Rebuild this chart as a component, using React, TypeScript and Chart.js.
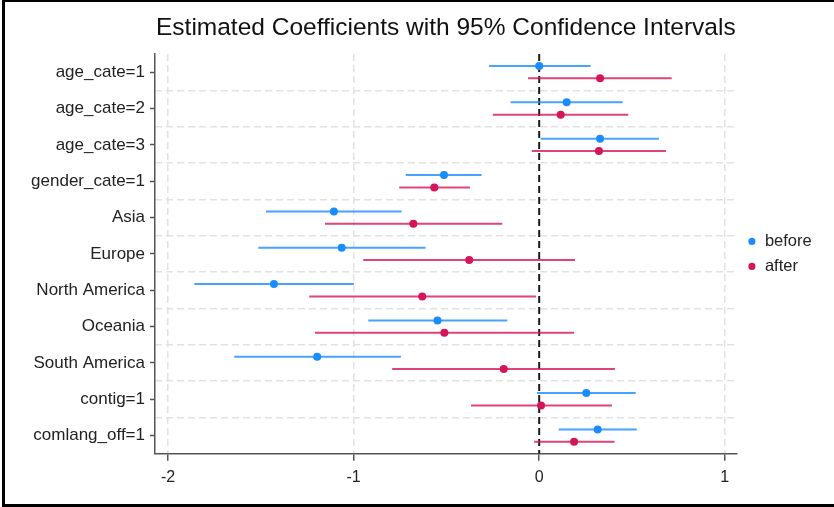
import React, { useEffect, useRef } from "react";
import { Chart, registerables } from "chart.js";

Chart.register(...registerables);

const titleText = "Estimated Coefficients with 95% Confidence Intervals";

const categories = [
  "age_cate=1",
  "age_cate=2",
  "age_cate=3",
  "gender_cate=1",
  "Asia",
  "Europe",
  "North America",
  "Oceania",
  "South America",
  "contig=1",
  "comlang_off=1",
];

const beforeCoef = [0.0, 0.148, 0.328, -0.513, -1.106, -1.064, -1.429, -0.548, -1.196, 0.254, 0.315];
const beforeLow = [-0.27, -0.154, 0.008, -0.719, -1.472, -1.513, -1.858, -0.921, -1.643, -0.012, 0.105];
const beforeHigh = [0.277, 0.45, 0.645, -0.31, -0.741, -0.612, -0.998, -0.172, -0.745, 0.52, 0.526];

const afterCoef = [0.328, 0.116, 0.322, -0.565, -0.678, -0.377, -0.63, -0.511, -0.191, 0.01, 0.188];
const afterLow = [-0.06, -0.25, -0.04, -0.754, -1.154, -0.948, -1.239, -1.208, -0.792, -0.367, -0.027];
const afterHigh = [0.714, 0.48, 0.683, -0.373, -0.199, 0.193, -0.017, 0.188, 0.408, 0.392, 0.406];

const xTicks = [-2, -1, 0, 1];
const seriesNames = ["before", "after"];

export default function App() {
  const ref = useRef<HTMLCanvasElement>(null);

  useEffect(() => {
    document.body.style.margin = "0";
    document.body.style.overflow = "hidden";
    const canvas = ref.current;
    if (!canvas) return;

    const family = "'Liberation Sans', Arial, sans-serif";
    const blue = "rgb(26,140,255)";
    const blueLine = "rgba(26,140,255,0.8)";
    const red = "rgb(214,20,90)";
    const redLine = "rgba(214,20,90,0.8)";
    const off = 0.17;
    const n = categories.length;

    const barSets: any[] = [];
    categories.forEach((_, i) => {
      barSets.push({
        label: "",
        data: [
          { x: beforeLow[i], y: i + 1 - off },
          { x: beforeHigh[i], y: i + 1 - off },
        ],
        showLine: true,
        borderColor: blueLine,
        borderWidth: 2,
        pointRadius: 0,
        xAxisID: "x",
        yAxisID: "y",
        order: 1,
      });
      barSets.push({
        label: "",
        data: [
          { x: afterLow[i], y: i + 1 + off },
          { x: afterHigh[i], y: i + 1 + off },
        ],
        showLine: true,
        borderColor: redLine,
        borderWidth: 2,
        pointRadius: 0,
        xAxisID: "x",
        yAxisID: "y",
        order: 1,
      });
    });

    const chart = new Chart(canvas, {
      type: "scatter",
      data: {
        datasets: [
          {
            label: seriesNames[0],
            data: beforeCoef.map((v, i) => ({ x: v, y: i + 1 - off })),
            backgroundColor: blue,
            borderColor: blue,
            borderWidth: 0,
            pointRadius: 4,
            pointStyle: "circle",
            xAxisID: "x",
            yAxisID: "y",
            order: 0,
          },
          {
            label: seriesNames[1],
            data: afterCoef.map((v, i) => ({ x: v, y: i + 1 + off })),
            backgroundColor: red,
            borderColor: red,
            borderWidth: 0,
            pointRadius: 4,
            pointStyle: "circle",
            xAxisID: "x",
            yAxisID: "y",
            order: 0,
          },
          ...barSets,
          {
            label: "",
            data: [
              { x: 0, y: 0.5 },
              { x: 0, y: n + 0.5 },
            ],
            showLine: true,
            borderColor: "#1a1a1a",
            borderWidth: 2,
            borderDash: [7, 4],
            pointRadius: 0,
            xAxisID: "x",
            yAxisID: "y",
            order: 2,
          },
        ],
      },
      options: {
        animation: false,
        responsive: false,
        events: [],
        layout: { padding: { left: 0, right: 12.3, top: 0, bottom: 13 } },
        plugins: {
          tooltip: { enabled: false },
          title: {
            display: true,
            fullSize: false,
            text: titleText,
            color: "#111",
            font: { family, size: 24.5, weight: "normal" },
            padding: { top: 14, bottom: 10.6 },
          },
          legend: {
            position: "right",
            fullSize: false,
            labels: {
              usePointStyle: true,
              pointStyle: "circle",
              boxWidth: 9.5,
              boxHeight: 5,
              padding: 8.5,
              color: "#222",
              font: { family, size: 16.5 },
              filter: (item: any) => item.text === seriesNames[0] || item.text === seriesNames[1],
            },
          },
        },
        scales: {
          x: {
            type: "linear",
            min: -2.07,
            max: 1.064,
            afterBuildTicks: (s: any) => {
              s.ticks = xTicks.map((v) => ({ value: v }));
            },
            ticks: {
              color: "#222",
              font: { family, size: 16 },
              padding: 7,
              callback: (v: any) => String(v),
            },
            grid: {
              color: (c: any) => (c.tick && c.tick.value === 0 ? "rgba(0,0,0,0)" : "#e2e2e2"),
              lineWidth: 1.5,
              tickLength: 7,
              tickColor: "#555",
              tickWidth: 1.5,
            },
            border: { color: "#555", width: 1.5, dash: [7, 4] },
          },
          y: {
            type: "linear",
            position: "left",
            min: 0.5,
            max: n + 0.5,
            reverse: true,
            afterBuildTicks: (s: any) => {
              s.ticks = categories.map((_, i) => ({ value: i + 1 }));
            },
            afterFit: (s: any) => {
              s.width = 155;
            },
            ticks: {
              autoSkip: false,
              color: "#222",
              font: { family, size: 17 },
              padding: 5,
              callback: (v: any) => categories[Math.round(v) - 1] ?? "",
            },
            grid: {
              drawOnChartArea: false,
              tickLength: 5,
              tickColor: "#555",
              tickWidth: 1.5,
            },
            border: { color: "#555", width: 1.5 },
          },
          y2: {
            type: "linear",
            position: "right",
            min: 0.5,
            max: n + 0.5,
            reverse: true,
            afterBuildTicks: (s: any) => {
              s.ticks = categories.slice(1).map((_, i) => ({ value: i + 1.5 }));
            },
            afterFit: (s: any) => {
              s.width = 2;
            },
            ticks: { display: false },
            grid: { color: "#e2e2e2", lineWidth: 1.5, drawTicks: false },
            border: { display: false, dash: [7, 4] },
          },
        },
      },
    } as any);

    return () => chart.destroy();
  }, []);

  return (
    <div style={{ position: "absolute", left: 0, top: 0, width: 834, height: 507, overflow: "hidden", background: "#fff" }}>
      <canvas ref={ref} width={834} height={507} style={{ display: "block", width: 834, height: 507 }} />
      <div
        style={{
          position: "absolute",
          left: 2,
          top: 0,
          width: 900,
          height: 507,
          boxSizing: "border-box",
          borderTop: "2px solid #000",
          borderLeft: "3px solid #000",
          borderBottom: "3px solid #000",
          pointerEvents: "none",
        }}
      />
    </div>
  );
}
